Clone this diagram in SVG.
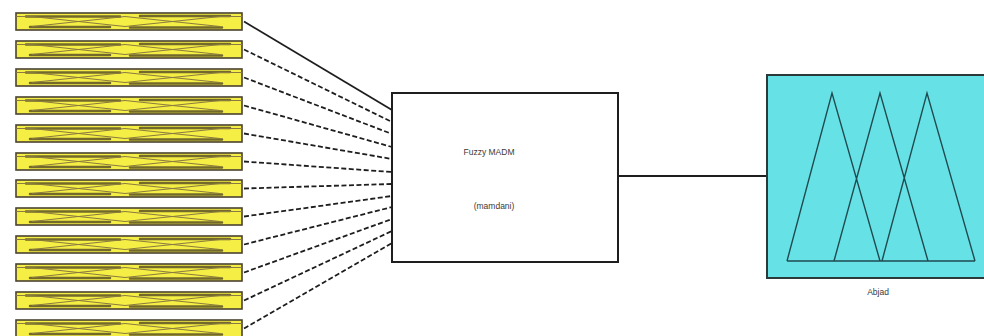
<svg xmlns="http://www.w3.org/2000/svg" xmlns:xlink="http://www.w3.org/1999/xlink" width="984" height="336" viewBox="0 0 984 336">
<style>
.yb{fill:#f5ee45;stroke:#4a4230;stroke-width:1.6}
.ybin{fill:none;stroke:#8a7a40;stroke-width:1}
.ybdark{fill:none;stroke:#3a3020;stroke-width:2.5;stroke-linecap:round;opacity:0.7}
.conn{fill:none;stroke:#1e1e1e;stroke-width:1.8}
.dash{stroke-dasharray:5 2.5}
.box{fill:#ffffff;stroke:#1e1e1e;stroke-width:2}
.cyan{fill:#66e2e6;stroke:#2a3a3a;stroke-width:2}
.tri{fill:none;stroke:#1f4a50;stroke-width:1.4}
.lbl{font-family:"Liberation Sans",Arial,sans-serif;font-size:8.5px;fill:#3a3a3a;text-anchor:middle}
</style>
<defs>
<g id="ybox">
<rect class="yb" x="16" y="0" width="226" height="17"/>
<path class="ybdark" d="M26 3.5 H120 M140 3 H230 M30 14 H110 M130 14.5 H222"/>
<path class="ybin" d="M16 3.5 H32 L125 13.5 M32 13.5 L125 3.5 L220 13.5 M125 13.5 L220 3.5 H242"/>
</g>
</defs>
<rect width="984" height="336" fill="#ffffff"/>
<g id="connectors">
<path class="conn" d="M244 21.5 L392 110"/>
<path class="conn dash" d="M244 49.5 L392 122"/>
<path class="conn dash" d="M244 77.5 L392 134"/>
<path class="conn dash" d="M244 105.5 L392 147"/>
<path class="conn dash" d="M244 133.5 L392 159"/>
<path class="conn dash" d="M244 161.5 L392 172"/>
<path class="conn dash" d="M244 188.5 L392 184"/>
<path class="conn dash" d="M244 216.5 L392 196"/>
<path class="conn dash" d="M244 244.5 L392 207"/>
<path class="conn dash" d="M244 272.5 L392 219"/>
<path class="conn dash" d="M244 300.5 L392 231"/>
<path class="conn dash" d="M244 328.5 L392 243"/>
<path class="conn" d="M618 176 L767 176"/>
</g>
<g id="input1"><use xlink:href="#ybox" href="#ybox" transform="translate(0,13)"/></g>
<g id="input2"><use xlink:href="#ybox" href="#ybox" transform="translate(0,41)"/></g>
<g id="input3"><use xlink:href="#ybox" href="#ybox" transform="translate(0,69)"/></g>
<g id="input4"><use xlink:href="#ybox" href="#ybox" transform="translate(0,97)"/></g>
<g id="input5"><use xlink:href="#ybox" href="#ybox" transform="translate(0,125)"/></g>
<g id="input6"><use xlink:href="#ybox" href="#ybox" transform="translate(0,153)"/></g>
<g id="input7"><use xlink:href="#ybox" href="#ybox" transform="translate(0,180)"/></g>
<g id="input8"><use xlink:href="#ybox" href="#ybox" transform="translate(0,208)"/></g>
<g id="input9"><use xlink:href="#ybox" href="#ybox" transform="translate(0,236)"/></g>
<g id="input10"><use xlink:href="#ybox" href="#ybox" transform="translate(0,264)"/></g>
<g id="input11"><use xlink:href="#ybox" href="#ybox" transform="translate(0,292)"/></g>
<g id="input12"><use xlink:href="#ybox" href="#ybox" transform="translate(0,320)"/></g>
<g id="fuzzy-madm">
<rect class="box" x="392" y="93" width="226" height="169"/>
<text class="lbl" x="489" y="155">Fuzzy MADM</text>
<text class="lbl" x="494" y="209">(mamdani)</text>
</g>
<g id="abjad">
<rect class="cyan" x="767" y="75" width="230" height="203"/>
<path class="tri" d="M787 261 L832 93 L880 261 M834 261 L880 93 L928 261 M882 261 L927 93 L975 261 M787 261 H975"/>
<text class="lbl" x="878" y="295">Abjad</text>
</g>
</svg>
